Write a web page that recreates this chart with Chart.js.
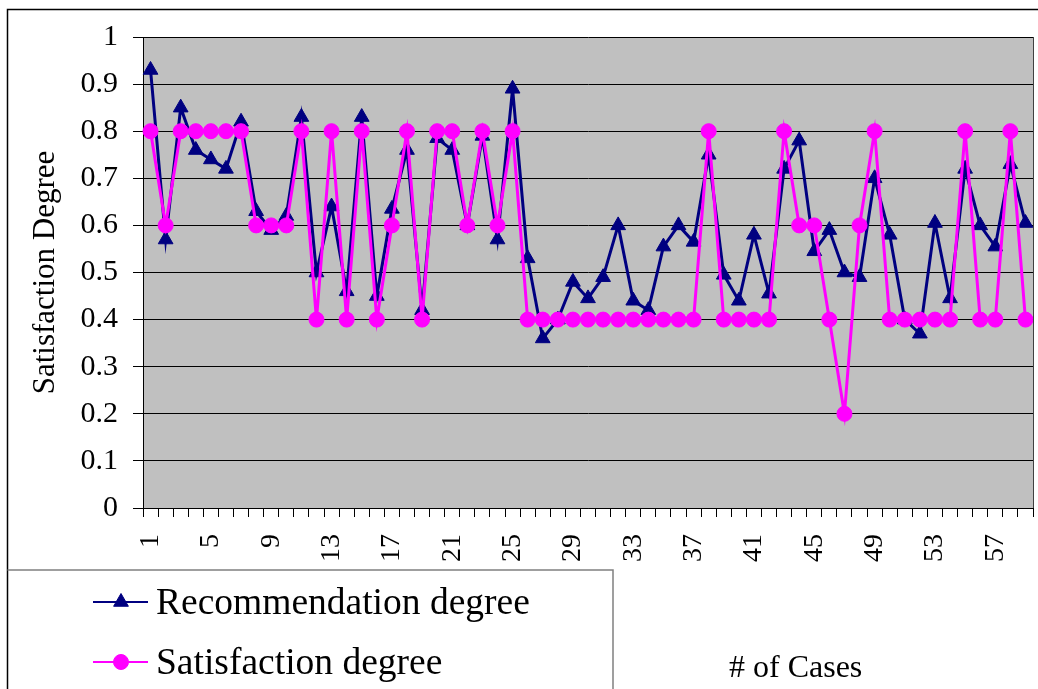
<!DOCTYPE html>
<html>
<head>
<meta charset="utf-8">
<script src="https://cdn.jsdelivr.net/npm/chart.js@4.4.1/dist/chart.umd.min.js"></script>
<style>
  html, body { margin: 0; padding: 0; background: #fff; overflow: hidden; }
  canvas { display: block; }
</style>
</head>
<body>
<canvas id="chart" width="1038" height="689"></canvas>
<script>
// case numbers on the x axis
const cases = [
  '1', '2', '3', '4', '5', '6', '7', '8', '9', '10',
  '11', '12', '13', '14', '15', '16', '17', '18', '19', '20',
  '21', '22', '23', '24', '25', '26', '27', '28', '29', '30',
  '31', '32', '33', '34', '35', '36', '37', '38', '39', '40',
  '41', '42', '43', '44', '45', '46', '47', '48', '49', '50',
  '51', '52', '53', '54', '55', '56', '57', '58', '59',
]
// only every fourth case gets a label
const shownCases = ['1', '5', '9', '13', '17', '21', '25', '29', '33', '37', '41', '45', '49', '53', '57']

const recommendation = [
  0.93, 0.57, 0.85, 0.76, 0.74, 0.72, 0.82, 0.63, 0.59, 0.62,
  0.83, 0.50, 0.64, 0.46, 0.83, 0.45, 0.635, 0.76, 0.42, 0.785,
  0.76, 0.60, 0.79, 0.57, 0.89, 0.53, 0.36, 0.40, 0.48, 0.445,
  0.49, 0.60, 0.44, 0.42, 0.555, 0.60, 0.565, 0.75, 0.495, 0.44,
  0.58, 0.455, 0.72, 0.78, 0.545, 0.59, 0.50, 0.49, 0.70, 0.58,
  0.40, 0.37, 0.605, 0.445, 0.72, 0.60, 0.555, 0.73, 0.605,
]

const satisfaction = [
  0.8, 0.6, 0.8, 0.8, 0.8, 0.8, 0.8, 0.6, 0.6, 0.6,
  0.8, 0.4, 0.8, 0.4, 0.8, 0.4, 0.6, 0.8, 0.4, 0.8,
  0.8, 0.6, 0.8, 0.6, 0.8, 0.4, 0.4, 0.4, 0.4, 0.4,
  0.4, 0.4, 0.4, 0.4, 0.4, 0.4, 0.4, 0.8, 0.4, 0.4,
  0.4, 0.4, 0.8, 0.6, 0.6, 0.4, 0.2, 0.6, 0.8, 0.4,
  0.4, 0.4, 0.4, 0.4, 0.8, 0.4, 0.4, 0.8, 0.4,
]

const NAVY = '#000080'
const MAGENTA = '#ff00ff'
const SERIF = "'Liberation Serif', 'Times New Roman', serif"

// line controller that does not reserve extra room around the plot for markers
class TightLineController extends Chart.LineController {
  getMaxOverflow() {
    return 0
  }
}
TightLineController.id = 'tightLine'
TightLineController.defaults = Chart.LineController.defaults
TightLineController.overrides = Chart.LineController.overrides
Chart.register(TightLineController)

// plot background, frame, legend box and x title (drawn like the Excel original)
const decor = {
  id: 'decor',
  beforeDraw(chart) {
    const { ctx, chartArea: a } = chart
    ctx.save()
    ctx.fillStyle = '#ffffff'
    ctx.fillRect(0, 0, chart.width, chart.height)
    ctx.fillStyle = '#c0c0c0'
    ctx.fillRect(a.left, a.top, a.right - a.left, a.bottom - a.top)
    ctx.restore()
  },
  afterDraw(chart) {
    const { ctx, chartArea: a } = chart
    ctx.save()
    ctx.strokeStyle = '#404040'
    ctx.lineWidth = 1
    ctx.beginPath()
    ctx.moveTo(Math.round(a.right) + 0.5, a.top)
    ctx.lineTo(Math.round(a.right) + 0.5, a.bottom)
    ctx.stroke()

    ctx.strokeStyle = '#000000'
    ctx.lineWidth = 1.5
    ctx.beginPath()
    ctx.moveTo(7.5, chart.height)
    ctx.lineTo(7.5, 9.5)
    ctx.lineTo(chart.width, 9.5)
    ctx.stroke()

    ctx.strokeStyle = '#808080'
    ctx.lineWidth = 1.5
    ctx.beginPath()
    ctx.moveTo(7.5, 570)
    ctx.lineTo(613, 570)
    ctx.lineTo(613, chart.height)
    ctx.stroke()

    chart.data.datasets.forEach((ds, i) => {
      const y = 602 + i * 60
      ctx.strokeStyle = ds.borderColor
      ctx.lineWidth = 2
      ctx.beginPath()
      ctx.moveTo(93, y)
      ctx.lineTo(148, y)
      ctx.stroke()
      ctx.fillStyle = ds.pointBackgroundColor
      ctx.strokeStyle = ds.pointBorderColor
      ctx.lineWidth = 1
      Chart.helpers.drawPoint(ctx, { pointStyle: ds.pointStyle, radius: ds.pointRadius, rotation: 0, borderWidth: 1 }, 121, y)
      ctx.fillStyle = '#000000'
      ctx.font = `37.5px ${SERIF}`
      ctx.textAlign = 'left'
      ctx.textBaseline = 'alphabetic'
      ctx.fillText(ds.label, 156, y + 12)
    })

    ctx.font = `32px ${SERIF}`
    ctx.fillText('# of Cases', 729, 677)
    ctx.restore()
  },
}

new Chart(document.getElementById('chart'), {
  type: 'tightLine',
  data: {
    labels: cases,
    datasets: [
      {
        label: 'Recommendation degree',
        data: recommendation,
        borderColor: NAVY,
        backgroundColor: NAVY,
        pointBackgroundColor: NAVY,
        pointBorderColor: NAVY,
        pointBorderWidth: 1,
        pointStyle: 'triangle',
        pointRadius: 8.5,
        borderWidth: 3,
        tension: 0,
        clip: 12,
        order: 1,
      },
      {
        label: 'Satisfaction degree',
        data: satisfaction,
        borderColor: MAGENTA,
        backgroundColor: MAGENTA,
        pointBackgroundColor: MAGENTA,
        pointBorderColor: MAGENTA,
        pointBorderWidth: 1,
        pointStyle: 'circle',
        pointRadius: 7.5,
        borderWidth: 3,
        tension: 0,
        clip: 12,
        order: 0,
      },
    ],
  },
  options: {
    responsive: false,
    animation: false,
    devicePixelRatio: 1,
    layout: { padding: { top: 37, right: 5, left: 0, bottom: 0 } },
    plugins: {
      legend: { display: false },
      tooltip: { enabled: false },
    },
    scales: {
      x: {
        type: 'category',
        offset: true,
        grid: { offset: true, drawOnChartArea: false, drawTicks: true, tickLength: 9, color: '#000000' },
        border: { display: true, color: '#000000', width: 1 },
        ticks: {
          autoSkip: false,
          maxRotation: 90,
          minRotation: 90,
          padding: 17,
          color: '#000000',
          font: { family: SERIF, size: 28 },
          callback(value, index) {
            const label = cases[index]
            return shownCases.includes(label) ? label : ''
          },
        },
        afterFit(scale) {
          scale.height = 181
          scale.paddingLeft = 0
          scale.paddingRight = 0
        },
      },
      y: {
        type: 'linear',
        min: 0,
        max: 1,
        grid: { color: '#000000', lineWidth: 1, tickLength: 10 },
        border: { display: true, color: '#000000', width: 1 },
        ticks: {
          stepSize: 0.1,
          padding: 15,
          color: '#000000',
          font: { family: SERIF, size: 30 },
          callback: (v) => String(Number(v.toFixed(1))),
        },
        title: {
          display: true,
          text: 'Satisfaction Degree',
          color: '#000000',
          font: { family: SERIF, size: 31 },
          padding: { top: 27, bottom: 0 },
        },
        afterFit(scale) {
          scale.width = 143
          scale.paddingTop = 0
          scale.paddingBottom = 0
        },
      },
    },
  },
  plugins: [decor],
})
</script>
</body>
</html>
